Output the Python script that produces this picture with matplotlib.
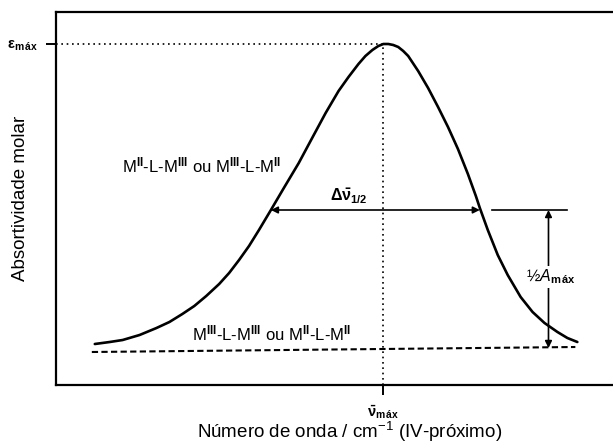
import matplotlib
matplotlib.use("Agg")
import matplotlib.pyplot as plt

plt.rcParams['font.family'] = ['Liberation Sans', 'DejaVu Sans']
plt.rcParams['mathtext.fontset'] = 'custom'
plt.rcParams['mathtext.rm'] = 'Liberation Sans'
plt.rcParams['mathtext.it'] = 'Liberation Sans:italic'
plt.rcParams['mathtext.bf'] = 'Liberation Sans:bold'

# Band shape (arbitrary units)
wavenumber = [95, 110, 123, 140, 157, 170, 183, 195, 207, 220, 230, 240, 250, 260,
              272, 285, 300, 314, 327, 340, 350, 360, 367, 374, 380, 385, 390, 395,
              400, 405, 410, 420, 430, 440, 450, 460, 470, 478, 482, 490, 500, 510,
              523, 535, 547, 560, 570, 580]
absorptivity = [41, 43, 45, 50, 57, 63, 71, 79, 89, 101, 112, 125, 139, 155,
                175, 197, 222, 248, 272, 294, 308, 321, 329, 335, 339, 341, 341, 340,
                338, 334, 329, 314, 297, 278, 258, 236, 211, 189, 177, 155, 130, 110,
                88, 73, 62, 53, 47, 43]

baseline_x = [92, 578]
baseline_y = [33, 38]

peak_x = 385
peak_a = 341
half_a = 175
half_left = 272
half_right = 482

fig = plt.figure(figsize=(6.13, 4.48), dpi=100)
ax = fig.add_axes([56/613, (448-385)/448, (613-56)/613 + 0.01, (385-12)/448])
ax.set_xlim(56, 622)
ax.set_ylim(0, 373)

ax.plot(wavenumber, absorptivity, color='black', lw=1.9, solid_capstyle='round',
        solid_joinstyle='round')
ax.plot(baseline_x, baseline_y, color='black', lw=1.5, ls=(0, (3, 1.6)))

# dotted guides
ax.plot([56, peak_x], [peak_a, peak_a], color='black', lw=1.2, ls=(0, (1, 2.2)))
ax.plot([peak_x, peak_x], [0, peak_a], color='black', lw=1.2, ls=(0, (1, 2.2)))

# half-width double arrow
ax.annotate('', xy=(half_left, half_a), xytext=(half_right, half_a),
            arrowprops=dict(arrowstyle='<|-|>', color='black', lw=1.2,
                            mutation_scale=10, shrinkA=0, shrinkB=0))
ax.plot([494, 570], [half_a, half_a], color='black', lw=1.2)
# vertical half-height arrow
ax.annotate('', xy=(551, half_a), xytext=(551, 37),
            arrowprops=dict(arrowstyle='<|-|>', color='black', lw=1.2,
                            mutation_scale=10, shrinkA=0, shrinkB=0))
ax.text(553, 108, r'½$\mathit{A}_{\mathbf{m\,áx}}$', fontsize=11.5, ha='center', va='center',
        bbox=dict(facecolor='white', edgecolor='none', pad=1))

ax.text(350, 189, r'$\mathbf{\Delta\bar{\nu}_{1/2}}$', fontsize=11.5, ha='center', va='center')

ax.text(122, 220, r'M$^{\mathbf{II}}$-L-M$^{\mathbf{III}}$ ou M$^{\mathbf{III}}$-L-M$^{\mathbf{II}}$',
        fontsize=12, ha='left', va='center')
ax.text(193, 52, r'M$^{\mathbf{III}}$-L-M$^{\mathbf{III}}$ ou M$^{\mathbf{II}}$-L-M$^{\mathbf{II}}$',
        fontsize=12, ha='left', va='center')

for s in ['left', 'top', 'bottom']:
    ax.spines[s].set_linewidth(1.6)
ax.spines['right'].set_visible(False)

ax.set_xticks([peak_x])
ax.set_xticklabels([r'$\mathbf{\bar{\nu}_{m\,áx}}$'], fontsize=10.5)
ax.set_yticks([peak_a])
ax.set_yticklabels([r'$\mathbf{\varepsilon_{m\,áx}}$'], fontsize=10.5)
ax.tick_params(direction='out', length=7, width=1.4, pad=6)

ax.set_xlabel(r'Número de onda / cm$^{-1}$ (IV-próximo)', fontsize=13.5)
ax.xaxis.set_label_coords(0.522, -0.094)
ax.set_ylabel('Absortividade molar', fontsize=13.5)
ax.yaxis.set_label_coords(-0.048, 0.5)

fig.savefig('out.png', dpi=100)
